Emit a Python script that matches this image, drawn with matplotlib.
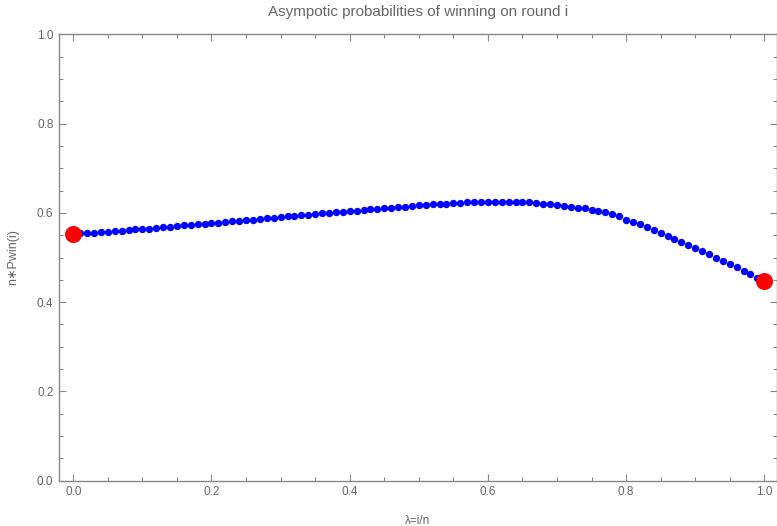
import matplotlib
matplotlib.use("Agg")
import matplotlib.pyplot as plt
from matplotlib.ticker import MultipleLocator

# valores (lambda = k/100)
lam = [k / 100 for k in range(101)]
prob = [
    0.553, 0.554, 0.555, 0.556, 0.557, 0.558, 0.559, 0.560, 0.561, 0.563,
    0.564, 0.565, 0.566, 0.568, 0.569, 0.570, 0.572, 0.573, 0.574, 0.576,
    0.577, 0.578, 0.580, 0.581, 0.582, 0.584, 0.585, 0.586, 0.588, 0.589,
    0.590, 0.592, 0.593, 0.595, 0.596, 0.597, 0.599, 0.600, 0.601, 0.603,
    0.604, 0.605, 0.607, 0.608, 0.609, 0.611, 0.612, 0.613, 0.614, 0.616,
    0.617, 0.618, 0.619, 0.620, 0.621, 0.622, 0.623, 0.624, 0.624, 0.625,
    0.625, 0.625, 0.625, 0.625, 0.625, 0.624, 0.624, 0.623, 0.621, 0.620,
    0.618, 0.616, 0.614, 0.612, 0.610, 0.607, 0.604, 0.601, 0.597, 0.592,
    0.585, 0.580, 0.574, 0.568, 0.562, 0.556, 0.549, 0.542, 0.535, 0.528,
    0.521, 0.514, 0.507, 0.500, 0.493, 0.486, 0.478, 0.470, 0.463, 0.455,
    0.447,
]
# pontos vermelhos nas extremidades
ext_x = [0.0, 1.0]
ext_y = [0.553, 0.447]

cinza = "#666666"
plt.rcParams["font.family"] = ["Liberation Sans", "DejaVu Sans"]

fig = plt.figure(figsize=(7.77, 5.26), dpi=100)
ax = fig.add_axes([59 / 777, 1 - 480.5 / 526, (776.5 - 59) / 777, (480.5 - 34.5) / 526])

ax.scatter(lam, prob, s=28, color="#0000ff", linewidths=0, zorder=3)
ax.scatter(ext_x, ext_y, s=150, color="#ff0000", linewidths=0, zorder=4)

ax.set_xlim(-0.0207, 1.0177)
ax.set_ylim(0, 1)

ax.xaxis.set_major_locator(MultipleLocator(0.2))
ax.xaxis.set_minor_locator(MultipleLocator(0.05))
ax.yaxis.set_major_locator(MultipleLocator(0.2))
ax.yaxis.set_minor_locator(MultipleLocator(0.05))
ax.xaxis.set_major_formatter(lambda v, p: f"{v:.1f}")
ax.yaxis.set_major_formatter(lambda v, p: f"{v:.1f}")

ax.tick_params(which="both", direction="in", top=True, right=True,
               color="#888888", labelcolor=cinza, labelsize=8.5, width=0.8)
ax.tick_params(which="major", length=5, pad=4)
ax.tick_params(which="minor", length=3)
for s in ax.spines.values():
    s.set_color("#888888")
    s.set_linewidth(1.0)

ax.set_title("Asympotic probabilities of winning on round i", color=cinza,
             fontsize=11, pad=13)
ax.set_xlabel("λ=i/n", color=cinza, fontsize=8.5, labelpad=12)
ax.set_ylabel("n∗Pwin(i)", color=cinza, fontsize=9, labelpad=13)

fig.savefig("out.png", dpi=100)
